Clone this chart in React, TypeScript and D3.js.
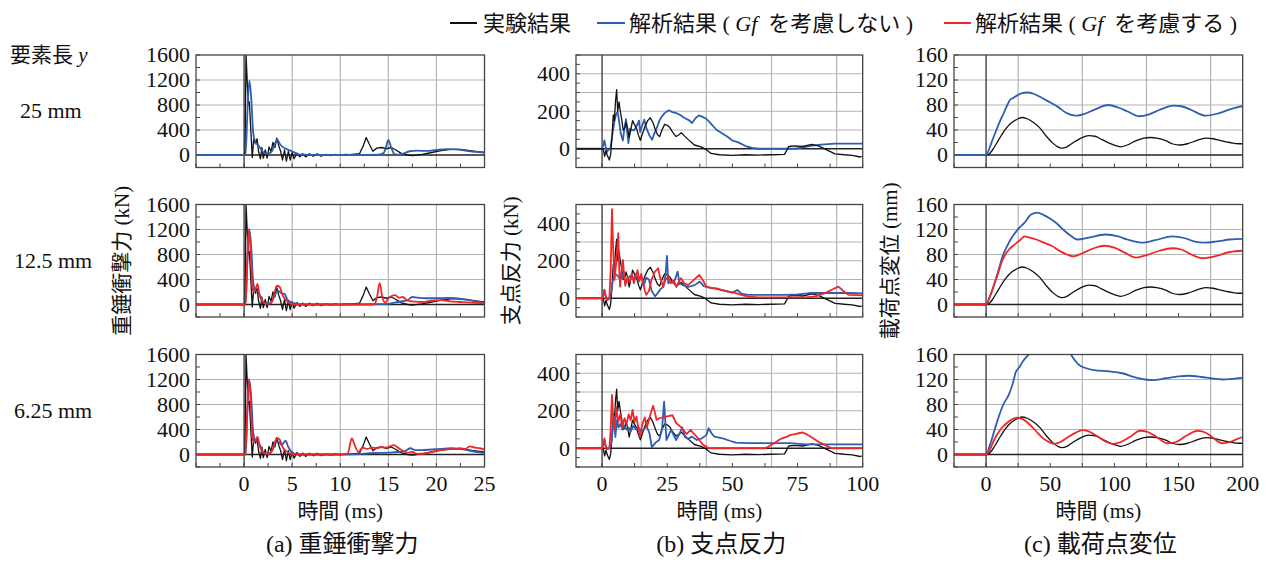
import React from "react";
import * as d3 from "d3";

type Pt = [number, number];

// ---- text ----
const legendNames = ["実験結果", "解析結果", "解析結果"];
const legendNotes = ["", "を考慮しない", "を考慮する"];
const rowHeader = "要素長";
const rowLabels = ["25 mm", "12.5 mm", "6.25 mm"];
const captions = ["(a) 重錘衝撃力", "(b) 支点反力", "(c) 載荷点変位"];
const yTitles = ["重錘衝撃力 (kN)", "支点反力 (kN)", "載荷点変位 (mm)"];
const xTitle = "時間 (ms)";

// ---- ticks ----
const xTicksA = [0, 5, 10, 15, 20, 25];
const xTicksB = [0, 25, 50, 75, 100];
const xTicksC = [0, 50, 100, 150, 200];
const yTicksA = [0, 400, 800, 1200, 1600];
const yTicksB = [0, 200, 400];
const yTicksC = [0, 40, 80, 120, 160];

// ---- (a) impact force [ms, kN] ----
const expA: Pt[] = [[-5,0],[0,0],[0.1,50],[0.2,1620],[0.35,1100],[0.45,800],[0.55,850],[0.7,400],[0.85,-40],[1.0,250],[1.2,180],[1.35,260],[1.5,60],[1.7,-60],[1.85,120],[2.0,-50],[2.2,80],[2.4,-50],[2.6,130],[2.8,50],[3.0,200],[3.2,120],[3.4,270],[3.6,150],[3.8,60],[4.0,-80],[4.2,80],[4.4,-100],[4.6,60],[4.8,-80],[5.0,40],[5.2,-60],[5.5,30],[5.8,-30],[6.1,20],[6.4,-30],[6.8,20],[7.2,-20],[7.6,20],[8.0,-20],[8.5,10],[9,-10],[9.5,10],[10,-5],[10.5,10],[11,5],[11.5,15],[12,20],[12.4,150],[12.7,280],[13.0,180],[13.4,60],[13.8,110],[14.3,120],[14.8,100],[15.3,120],[15.8,80],[16.3,30],[17,0],[17.5,-10],[18.5,10],[19.5,40],[20.5,70],[21.5,90],[22.5,90],[23.5,70],[24.5,50],[25,40]];
const blueA1: Pt[] = [[-5,0],[0,0],[0.15,0],[0.35,700],[0.55,1190],[0.75,900],[0.95,350],[1.2,200],[1.5,150],[1.8,80],[2.1,30],[2.5,20],[2.9,60],[3.2,180],[3.45,250],[3.7,180],[4.0,130],[4.5,90],[5.0,60],[5.5,20],[6,5],[8,0],[10,0],[12,0],[14,5],[14.5,30],[14.8,150],[15.0,240],[15.3,120],[15.6,20],[16,5],[16.5,20],[17.2,60],[18,70],[19,65],[20,80],[21,95],[22,90],[23,70],[24,50],[25,40]];
const blueA2: Pt[] = [[-5,0],[0,0],[0.15,0],[0.35,700],[0.55,1200],[0.75,900],[0.95,350],[1.2,220],[1.5,200],[1.8,80],[2.1,20],[2.5,10],[2.9,50],[3.2,150],[3.5,220],[3.9,180],[4.2,170],[4.5,80],[5,30],[5.5,10],[6,0],[10,0],[14,5],[15,10],[16,40],[17,70],[17.5,120],[18,110],[19,100],[20,100],[21,105],[22,100],[23,80],[24,50],[25,30]];
const redA2: Pt[] = [[-5,0],[0,0],[0.15,0],[0.3,600],[0.5,1210],[0.7,800],[0.85,300],[1.0,200],[1.2,250],[1.4,330],[1.6,150],[1.9,60],[2.3,10],[2.8,20],[3.1,150],[3.4,300],[3.7,280],[4.0,150],[4.4,60],[4.9,10],[5.5,0],[10,0],[13.5,0],[13.8,100],[14.1,340],[14.4,100],[14.7,30],[15.0,100],[15.4,140],[15.7,150],[16.1,110],[16.5,120],[17,60],[17.5,50],[18.5,40],[19.5,60],[20.5,70],[21.5,50],[22.5,40],[23.5,30],[25,20]];
const blueA3: Pt[] = [[-5,0],[0,0],[0.15,0],[0.35,700],[0.55,1190],[0.75,900],[0.95,350],[1.2,220],[1.5,200],[1.8,80],[2.1,20],[2.5,10],[2.9,60],[3.3,200],[3.6,200],[3.9,150],[4.3,220],[4.6,120],[5,30],[5.5,5],[6,0],[10,0],[12,5],[13,20],[14,25],[15,30],[16,40],[16.8,60],[17.3,100],[17.8,70],[18.5,70],[19.5,80],[20.5,90],[21.5,100],[22.5,90],[23.5,60],[24.5,35],[25,25]];
const redA3: Pt[] = [[-5,0],[0,0],[0.15,0],[0.3,600],[0.5,1210],[0.7,800],[0.85,300],[1.0,200],[1.2,230],[1.4,280],[1.6,150],[1.9,50],[2.3,10],[2.8,30],[3.1,150],[3.4,260],[3.7,240],[4.0,120],[4.4,50],[4.9,10],[5.5,0],[10,0],[10.8,20],[11.0,150],[11.2,256],[11.5,150],[11.9,40],[12.3,110],[12.8,90],[13.3,110],[13.8,100],[14.3,120],[14.8,110],[15.3,140],[15.6,150],[16.0,110],[16.5,60],[17,30],[17.5,40],[18,10],[19,20],[20,60],[21,80],[22,90],[22.5,100],[23,90],[23.5,130],[24,110],[24.5,100],[25,80]];

// ---- (b) support reaction [ms, kN] ----
const expB: Pt[] = [[-10,0],[0,0],[0.5,-5],[1.0,-40],[1.5,-10],[2.0,-35],[2.8,-60],[3.3,-30],[3.8,60],[4.3,180],[4.7,150],[5.2,260],[5.6,315],[6.0,200],[6.5,250],[7.0,200],[7.6,150],[8.1,100],[8.7,110],[9.2,140],[9.8,110],[10.4,60],[11.0,100],[11.7,150],[12.4,130],[13.2,110],[14.0,70],[14.7,45],[15.5,80],[16.5,120],[17.5,150],[18.5,165],[19.5,140],[20.5,100],[21.3,75],[22.1,65],[23.0,100],[24.0,130],[25.0,125],[25.9,115],[27.0,90],[28.4,65],[29.5,75],[30.4,85],[31.5,70],[33,50],[35.4,20],[38,10],[40,-5],[41.8,-25],[45,-32],[50,-35],[55,-32],[60,-34],[65,-32],[70,-30],[70.8,-10],[71.6,12],[74,15],[77,12],[80.5,23],[83,15],[86,-5],[89.4,-27],[93,-32],[96,-35],[99,-44],[100,-40]];
const blueB1: Pt[] = [[-10,0],[0,0],[0.5,20],[0.9,44],[1.4,10],[1.8,-18],[2.5,-5],[3.2,0],[4.0,80],[4.8,150],[5.5,190],[6.0,195],[6.5,150],[7.2,80],[8.0,44],[8.6,110],[9.2,158],[9.7,80],[10.1,30],[10.7,107],[11.5,100],[12.3,98],[13.2,120],[14.2,150],[14.6,90],[15.3,120],[16.2,155],[17.0,110],[18.2,70],[19.2,48],[20.0,80],[20.9,107],[22.0,150],[22.8,169],[24.0,190],[25.0,200],[25.7,205],[27.0,195],[28.5,190],[30,180],[31.5,165],[33.6,150],[34.5,137],[36,165],[37.2,178],[38.5,170],[40,160],[42,130],[44,100],[46.3,80],[48,65],[50,44],[52,35],[53.9,23],[55.5,12],[57.7,5],[60,0],[70,0],[74,0],[77,8],[80,15],[84,22],[89.4,27],[95,27],[100,27]];
const blueB2: Pt[] = [[-10,0],[0,0],[0.5,20],[0.9,44],[1.4,10],[2.0,-10],[2.8,0],[3.5,30],[4.2,100],[5.0,130],[6.0,120],[7.0,100],[8.0,130],[9.0,90],[10.0,110],[11.0,120],[12.0,100],[13.0,130],[14.0,90],[15.0,120],[16.0,70],[17.0,110],[18.0,100],[19.0,40],[20.3,10],[21.5,30],[22.5,50],[23.5,60],[24.3,120],[24.9,226],[25.4,80],[26.5,90],[27.5,80],[29.0,142],[29.7,80],[31,70],[33,60],[35.5,70],[37.5,89],[39,65],[41.5,55],[44,50],[47,40],[50,30],[51.9,44],[53.5,25],[56,18],[60,18],[65,18],[70,18],[75,20],[78,25],[80,28],[85,28],[90,28],[95,28],[100,26]];
const redB2: Pt[] = [[-10,0],[0,0],[0.5,20],[0.9,44],[1.4,10],[2.0,-10],[2.8,0],[3.3,150],[3.8,475],[4.3,250],[4.8,98],[5.5,200],[6.2,347],[6.6,150],[6.9,62],[7.5,150],[8.0,204],[8.5,120],[8.9,66],[9.8,110],[10.6,90],[11.4,130],[12.2,80],[13.0,120],[13.6,150],[14.3,90],[15.0,130],[15.8,80],[16.4,40],[17.0,18],[18.0,40],[19.0,100],[20.2,140],[21.5,160],[22.3,110],[23.4,62],[24.4,100],[25.5,115],[26.5,80],[27.5,95],[28.5,60],[29.5,90],[30.3,107],[31.5,80],[33,70],[35,95],[37.3,124],[38.5,100],[40,62],[42,55],[43.9,53],[46,44],[48.5,35],[51.3,27],[54,15],[56.3,9],[60,5],[70,5],[78,5],[82,10],[86,30],[88.5,48],[90.7,62],[92.5,40],[94.5,18],[100,15]];
const blueB3: Pt[] = [[-10,0],[0,0],[0.5,20],[0.9,44],[1.4,10],[2.0,-5],[2.8,0],[3.6,30],[4.1,100],[4.6,169],[5.1,60],[5.7,150],[6.3,110],[7.0,130],[7.8,100],[8.6,120],[9.4,100],[10.2,110],[11.0,90],[12.0,120],[13.0,100],[14.0,110],[15.0,90],[16.0,100],[17.0,120],[18.2,80],[19.1,5],[20.5,30],[21.9,44],[23.0,100],[23.8,249],[24.7,44],[26.5,98],[28.4,44],[29.8,80],[30.7,112],[31.8,60],[33.0,50],[34.5,62],[36.3,44],[38.3,53],[40.0,70],[40.9,107],[42.0,80],[43.1,62],[46.3,53],[49,40],[51.3,30],[56,27],[65,27],[72,27],[78,21],[85,21],[92,21],[100,21]];
const redB3: Pt[] = [[-10,0],[0,0],[0.5,20],[0.9,53],[1.4,10],[2.0,-5],[2.8,0],[3.3,100],[3.8,285],[4.3,150],[4.8,98],[5.5,219],[6.2,140],[7.0,180],[7.8,110],[8.6,160],[9.4,130],[10.2,180],[11.0,150],[11.7,204],[12.5,140],[13.2,169],[14.0,100],[14.5,62],[15.5,130],[16.4,165],[17.2,110],[18.5,180],[19.6,226],[20.3,190],[20.9,151],[22,160],[23.4,165],[25,170],[27,176],[28.5,133],[30.5,110],[32.4,76],[34,98],[35,80],[36.3,62],[37.5,40],[38.8,18],[41,0],[50,0],[62.7,0],[64.5,15],[66,27],[68,45],[69.1,53],[71,62],[72.4,71],[74,75],[75.5,80],[77,84],[78.5,75],[81,53],[83,35],[85.5,18],[88,0],[100,0]];

// ---- (c) load point displacement [ms, mm] ----
const expC: Pt[] = [[-25,0],[0,0],[2,1],[5,8],[10,25],[15,41],[20,52],[25,58],[28,60],[32,58],[37,52],[42,43],[47,30],[52,19],[56,13],[59,11],[63,13],[68,20],[74,27],[80,31],[85,30],[90,25],[96,19],[101,15],[105,13],[110,16],[117,23],[123,27],[128,28],[133,27],[140,23],[145,18],[151,16],[157,18],[164,23],[171,27],[177,26],[183,23],[190,20],[197,18],[200,18]];
const blueC1: Pt[] = [[-25,0],[0,0],[3,13],[5,24],[8,40],[11,55],[14,68],[17,82],[19,89],[21,91],[24,95],[28,99],[32,100],[37,98],[43,92],[50,84],[56,77],[62,68],[70,63],[77,66],[85,73],[95,80],[103,76],[110,70],[119,62],[127,65],[135,72],[146,79],[152,78],[160,72],[171,63],[180,66],[190,73],[197,77],[200,78]];
const blueC2: Pt[] = [[-25,0],[0,0],[3,13],[6,30],[9,50],[13,78],[17,96],[21,110],[26,123],[30,131],[35,144],[40,147],[45,143],[51,136],[56,128],[60,120],[66,110],[71,104],[80,107],[93,112],[103,109],[110,104],[121,99],[132,103],[145,109],[155,106],[162,101],[170,99],[180,101],[190,104],[200,105]];
const redC2: Pt[] = [[-25,0],[0,0],[3,13],[6,30],[9,48],[13,72],[17,86],[21,94],[24,99],[27,104],[30,109],[34,107],[39,104],[45,99],[51,94],[58,85],[63,80],[68,77],[75,82],[84,90],[92,94],[100,91],[108,83],[117,75],[125,79],[135,86],[145,90],[152,88],[160,80],[169,74],[178,77],[190,84],[200,86]];
const blueC3: Pt[] = [[-25,0],[0,0],[3,15],[6,35],[9,55],[13,78],[18,97],[21,115],[23,131],[26,140],[29,150],[34,162],[40,178],[48,188],[56,185],[62,172],[66,160],[72,144],[78,138],[84,135],[96,133],[106,130],[117,123],[124,120],[130,119],[140,122],[150,125],[158,126],[168,124],[175,122],[184,120],[192,121],[200,123]];
const redC3: Pt[] = [[-25,0],[0,0],[3,8],[6,22],[8,30],[12,42],[16,50],[20,56],[24,59],[28,57],[34,48],[40,35],[45,25],[50,19],[53,17],[58,20],[64,28],[70,35],[75,39],[80,37],[86,30],[92,22],[99,17],[105,20],[112,28],[120,38],[126,36],[133,28],[141,18],[148,20],[156,30],[165,38],[172,34],[178,25],[184,18],[190,20],[196,25],[200,28]];

const BLACK = "#111";
const BLUE = "#2f5db0";
const RED = "#f0262b";
const GRID = "#b4b4b4";
const FRAME = "#444";
const FONT = "'Liberation Serif', 'Noto Sans CJK JP', serif";
const JP = "'Noto Sans CJK JP', sans-serif";

const PANEL_H = 112.5;
const rowTops = [55, 204.5, 354.5];

const columns = [
  { left: 196, right: 484.5, xDomain: [-5, 25], yDomain: [-200, 1600], xTicks: xTicksA, xStep: 5, xMinor: 2.5, yTicks: yTicksA, yGridStep: 400, yMinor: 200, titleX: 122 },
  { left: 576, right: 862.7, xDomain: [-10, 100], yDomain: [-100, 500], xTicks: xTicksB, xStep: 25, xMinor: 12.5, yTicks: yTicksB, yGridStep: 100, yMinor: 50, titleX: 511 },
  { left: 954, right: 1242.7, xDomain: [-25, 200], yDomain: [-20, 160], xTicks: xTicksC, xStep: 50, xMinor: 25, yTicks: yTicksC, yGridStep: 40, yMinor: 20, titleX: 890 },
];

type Series = { data: Pt[]; color: string; width: number; smooth: boolean };
const blk = (d: Pt[], smooth = false): Series => ({ data: d, color: BLACK, width: 1.3, smooth });
const blu = (d: Pt[], smooth = true): Series => ({ data: d, color: BLUE, width: 1.8, smooth });
const rd = (d: Pt[], smooth = true): Series => ({ data: d, color: RED, width: 1.8, smooth });

const panelSeries: Series[][][] = [
  [[blk(expA), blu(blueA1)], [blk(expA), blu(blueA2), rd(redA2)], [blk(expA), blu(blueA3), rd(redA3)]],
  [[blu(blueB1, false), blk(expB)], [blk(expB), blu(blueB2, false), rd(redB2, false)], [blk(expB), blu(blueB3, false), rd(redB3, false)]],
  [[blk(expC, true), blu(blueC1)], [blk(expC, true), blu(blueC2), rd(redC2)], [blk(expC, true), blu(blueC3), rd(redC3)]],
];

function Panel({ ci, ri }: { ci: number; ri: number }) {
  const c = columns[ci];
  const top = rowTops[ri];
  const bottom = top + PANEL_H;
  const x = d3.scaleLinear().domain(c.xDomain).range([c.left, c.right]);
  const y = d3.scaleLinear().domain(c.yDomain).range([bottom, top]);
  const straight = d3.line<Pt>().x((d) => x(d[0])).y((d) => y(d[1]));
  const smooth = d3.line<Pt>().x((d) => x(d[0])).y((d) => y(d[1])).curve(d3.curveMonotoneX);
  const id = `clip-${ci}-${ri}`;
  const xGrid = d3.range(c.xDomain[0], c.xDomain[1] + 1e-6, c.xStep).filter((v) => v !== 0 && v > c.xDomain[0] && v < c.xDomain[1]);
  const yGrid = d3.range(0, c.yDomain[1] + 1e-6, c.yGridStep).filter((v) => v !== 0 && v < c.yDomain[1]);
  const xMinor = d3.range(Math.ceil(c.xDomain[0] / c.xMinor) * c.xMinor, c.xDomain[1] + 1e-6, c.xMinor);
  const yMinor = d3.range(Math.ceil(c.yDomain[0] / c.yMinor) * c.yMinor, c.yDomain[1] + 1e-6, c.yMinor);
  return (
    <g>
      <defs>
        <clipPath id={id}>
          <rect x={c.left} y={top} width={c.right - c.left} height={PANEL_H} />
        </clipPath>
      </defs>
      {xGrid.map((v) => (
        <line key={"gx" + v} x1={x(v)} x2={x(v)} y1={top} y2={bottom} stroke={GRID} strokeWidth={1.2} />
      ))}
      {yGrid.map((v) => (
        <line key={"gy" + v} x1={c.left} x2={c.right} y1={y(v)} y2={y(v)} stroke={GRID} strokeWidth={1.2} />
      ))}
      {xMinor.map((v) => (
        <line key={"mx" + v} x1={x(v)} x2={x(v)} y1={bottom} y2={bottom - 4} stroke={FRAME} strokeWidth={1} />
      ))}
      {yMinor.map((v) => (
        <line key={"my" + v} x1={c.left} x2={c.left + 4} y1={y(v)} y2={y(v)} stroke={FRAME} strokeWidth={1} />
      ))}
      <line x1={x(0)} x2={x(0)} y1={top} y2={bottom} stroke="#333" strokeWidth={1.3} />
      <line x1={c.left} x2={c.right} y1={y(0)} y2={y(0)} stroke="#222" strokeWidth={1.3} />
      <g clipPath={`url(#${id})`}>
        {panelSeries[ci][ri].map((s, i) => (
          <path key={i} d={(s.smooth ? smooth : straight)(s.data) ?? ""} fill="none" stroke={s.color} strokeWidth={s.width} strokeLinejoin="round" />
        ))}
      </g>
      <rect x={c.left} y={top} width={c.right - c.left} height={PANEL_H} fill="none" stroke={FRAME} strokeWidth={1.3} />
      {c.yTicks.map((v) => (
        <text key={"ty" + v} x={c.left - 6} y={y(v)} dy="0.34em" textAnchor="end" fontSize={22} fontFamily={FONT} fill="#111">
          {v}
        </text>
      ))}
      {ri === 2 &&
        c.xTicks.map((v) => (
          <text key={"tx" + v} x={x(v)} y={bottom + 24} textAnchor="middle" fontSize={22} fontFamily={FONT} fill="#111">
            {v}
          </text>
        ))}
    </g>
  );
}

export default function App() {
  const legendItems = [
    { x1: 450, x2: 477, tx: 483, color: BLACK },
    { x1: 597, x2: 625, tx: 629, color: BLUE },
    { x1: 944, x2: 971, tx: 975, color: RED },
  ];
  return (
    <svg width={1271} height={564} style={{ position: "absolute", left: 0, top: 0, background: "#fff" }}>
      {legendItems.map((it, i) => (
        <g key={i}>
          <line x1={it.x1} x2={it.x2} y1={23} y2={23} stroke={it.color} strokeWidth={2} />
          <text x={it.tx} y={31} fontSize={22} fontFamily={JP} fill="#111">
            {legendNames[i]}
            {i > 0 && (
              <>
                <tspan fontFamily={FONT}>{"\u00a0(\u00a0"}</tspan>
                <tspan fontFamily={FONT} fontStyle="italic">Gf</tspan>
                <tspan fontFamily={FONT}>{"\u00a0\u00a0"}</tspan>
                <tspan>{legendNotes[i]}</tspan>
                <tspan fontFamily={FONT}>{"\u00a0)"}</tspan>
              </>
            )}
          </text>
        </g>
      ))}
      <text x={10} y={62} fontSize={21} fontFamily={FONT} fill="#111">
        {rowHeader} <tspan fontStyle="italic">y</tspan>
      </text>
      {rowLabels.map((t, i) => (
        <text key={t} x={i === 0 ? 20 : 14} y={rowTops[i] + PANEL_H / 2 + 7} fontSize={22} fontFamily={FONT} fill="#111">
          {t}
        </text>
      ))}
      {columns.map((c, ci) => (
        <g key={ci}>
          {rowTops.map((_, ri) => (
            <Panel key={ri} ci={ci} ri={ri} />
          ))}
          <text transform={`translate(${c.titleX},${rowTops[1] + PANEL_H / 2}) rotate(-90)`} textAnchor="middle" dy="0.35em" fontSize={21} fontFamily={FONT} fill="#111">
            {yTitles[ci]}
          </text>
          <text x={(c.left + c.right) / 2} y={518} textAnchor="middle" fontSize={21} fontFamily={FONT} fill="#111">
            {xTitle}
          </text>
          <text x={(c.left + c.right) / 2 + 2} y={552} textAnchor="middle" fontSize={24} fontFamily={FONT} fill="#111">
            {captions[ci]}
          </text>
        </g>
      ))}
    </svg>
  );
}
